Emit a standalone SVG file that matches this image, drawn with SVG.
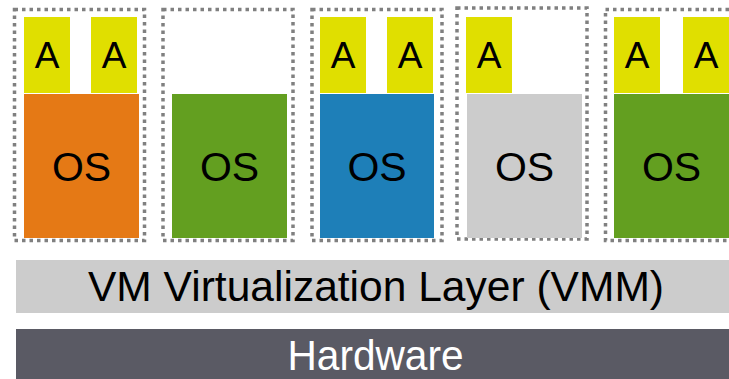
<svg xmlns="http://www.w3.org/2000/svg" width="729" height="379" viewBox="0 0 729 379">
  <style>
    .vm { fill: none; stroke: #808080; stroke-width: 3.5; stroke-dasharray: 3.5 4; }
    .app { fill: #e0df00; }
    .lbl { font-family: "Liberation Sans", Arial, sans-serif; fill: #000; text-anchor: middle; }
    .a { font-size: 37px; }
    .os { font-size: 41px; }
    .layer { font-size: 43px; }
  </style>

  <!-- VM 1 -->
  <g id="vm1">
    <rect class="vm" x="14.5" y="9.5" width="130" height="231"/>
    <rect class="app" x="24" y="17" width="46" height="76"/>
    <rect class="app" x="91" y="17" width="46" height="76"/>
    <rect x="24" y="94" width="115" height="144" fill="#e57915"/>
    <text class="lbl a" x="47" y="68">A</text>
    <text class="lbl a" x="114" y="68">A</text>
    <text class="lbl os" x="81.5" y="181">OS</text>
  </g>

  <!-- VM 2 -->
  <g id="vm2">
    <rect class="vm" x="163" y="9.5" width="130" height="231"/>
    <rect x="172" y="94" width="115" height="144" fill="#639f20"/>
    <text class="lbl os" x="229.5" y="181">OS</text>
  </g>

  <!-- VM 3 -->
  <g id="vm3">
    <rect class="vm" x="312" y="9.5" width="130" height="231"/>
    <rect class="app" x="320" y="17" width="46" height="76"/>
    <rect class="app" x="387" y="17" width="46" height="76"/>
    <rect x="320" y="94" width="114" height="144" fill="#1e7fb8"/>
    <text class="lbl a" x="343" y="68">A</text>
    <text class="lbl a" x="410" y="68">A</text>
    <text class="lbl os" x="377" y="181">OS</text>
  </g>

  <!-- VM 4 -->
  <g id="vm4">
    <rect class="vm" x="457" y="8" width="130" height="231"/>
    <rect class="app" x="466" y="17" width="46" height="76"/>
    <rect x="467" y="94" width="115" height="144" fill="#cccccc"/>
    <text class="lbl a" x="489" y="68">A</text>
    <text class="lbl os" x="524.5" y="181">OS</text>
  </g>

  <!-- VM 5 -->
  <g id="vm5">
    <rect class="vm" x="605.5" y="9.5" width="140" height="231"/>
    <rect class="app" x="614" y="17" width="46" height="76"/>
    <rect class="app" x="683" y="17" width="46" height="76"/>
    <rect x="614" y="94" width="115" height="144" fill="#639f20"/>
    <text class="lbl a" x="637" y="68">A</text>
    <text class="lbl a" x="706" y="68">A</text>
    <text class="lbl os" x="671.5" y="181">OS</text>
  </g>

  <!-- Virtualization layer -->
  <g id="vmm">
    <rect x="16" y="260" width="713" height="53" fill="#cccccc"/>
    <text class="lbl layer" x="376" y="301" textLength="576" lengthAdjust="spacingAndGlyphs">VM Virtualization Layer (VMM)</text>
  </g>

  <!-- Hardware -->
  <g id="hardware">
    <rect x="16" y="329" width="713" height="50" fill="#5a5a64"/>
    <text class="lbl layer" x="375.5" y="370" textLength="176" lengthAdjust="spacingAndGlyphs" style="fill:#ffffff">Hardware</text>
  </g>

  <g id="connectors"/>
</svg>
